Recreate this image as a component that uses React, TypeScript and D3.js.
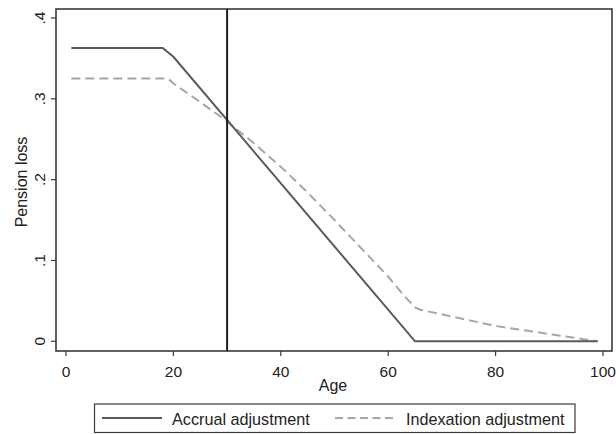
import React from "react";
import * as d3 from "d3";

// Ages and pension loss for the two adjustment schemes
const accrualAges = [1, 18, 20, 65, 99];
const accrualLoss = [0.363, 0.363, 0.352, 0, 0];

const indexationAges = [1, 19, 20, 25, 30, 35, 40, 45, 50, 55, 60, 63, 65, 66, 80, 99];
const indexationLoss = [0.325, 0.325, 0.319, 0.296, 0.272, 0.245, 0.216, 0.184, 0.15, 0.115, 0.08, 0.056, 0.042, 0.039, 0.019, 0];

const xTicks = [0, 20, 40, 60, 80, 100];
const yTicks = [0, 0.1, 0.2, 0.3, 0.4];
const yTickLabels = ["0", ".1", ".2", ".3", ".4"];
const referenceAge = 30;

const seriesNames = ["Accrual adjustment", "Indexation adjustment"];

const W = 616;
const H = 434;
const plot = { left: 56, right: 612, top: 9, bottom: 351 };
const FONT = "'Liberation Sans', Arial, sans-serif";

export default function App() {
  const x = d3.scaleLinear().domain([0, 100]).range([66, 603]);
  const y = d3.scaleLinear().domain([0, 0.4]).range([341.3, 18]);

  const line = d3
    .line<[number, number]>()
    .x((d) => x(d[0]))
    .y((d) => y(d[1]));

  const accrual = accrualAges.map((a, i) => [a, accrualLoss[i]] as [number, number]);
  const indexation = indexationAges.map((a, i) => [a, indexationLoss[i]] as [number, number]);

  const axisColor = "#3a3a3a";
  const solidColor = "#5a5a5a";
  const dashColor = "#a6a6a6";

  return (
    <svg
      width={W}
      height={H}
      style={{ position: "absolute", left: 0, top: 0, display: "block", background: "#fff" }}
      fontFamily={FONT}
    >
      <rect x={0} y={0} width={W} height={H} fill="#fff" />
      {/* plot region frame */}
      <rect
        x={plot.left}
        y={plot.top}
        width={plot.right - plot.left}
        height={plot.bottom - plot.top}
        fill="none"
        stroke={axisColor}
        strokeWidth={1.6}
      />

      {/* y axis ticks and labels */}
      {yTicks.map((t, i) => (
        <g key={"y" + i}>
          <line x1={plot.left - 5} x2={plot.left} y1={y(t)} y2={y(t)} stroke={axisColor} strokeWidth={1.2} />
          <text
            transform={`translate(45,${y(t)}) rotate(-90)`}
            textAnchor="middle"
            fontSize={15.5}
            fill="#222"
          >
            {yTickLabels[i]}
          </text>
        </g>
      ))}
      <text
        transform={`translate(26.5,${(plot.top + plot.bottom) / 2 + 2}) rotate(-90)`}
        textAnchor="middle"
        fontSize={16}
        fill="#222"
      >
        Pension loss
      </text>

      {/* x axis ticks and labels */}
      {xTicks.map((t) => (
        <g key={"x" + t}>
          <line x1={x(t)} x2={x(t)} y1={plot.bottom} y2={plot.bottom + 5} stroke={axisColor} strokeWidth={1.2} />
          <text x={x(t)} y={377} textAnchor="middle" fontSize={15.5} fill="#222">
            {t}
          </text>
        </g>
      ))}
      <text x={(plot.left + plot.right) / 2 - 1} y={391} textAnchor="middle" fontSize={16} fill="#222">
        Age
      </text>

      {/* series */}
      <path d={line(indexation) || ""} fill="none" stroke={dashColor} strokeWidth={2} strokeDasharray="9,5" />
      <path d={line(accrual) || ""} fill="none" stroke={solidColor} strokeWidth={2} />

      {/* reference age marker */}
      <line
        x1={x(referenceAge)}
        x2={x(referenceAge)}
        y1={plot.top}
        y2={plot.bottom}
        stroke="#1e1e1e"
        strokeWidth={2}
      />

      {/* legend */}
      <rect x={94.5} y={404} width={480.5} height={28.5} fill="#fff" stroke={axisColor} strokeWidth={1.2} />
      <line x1={102} x2={162} y1={418} y2={418} stroke={solidColor} strokeWidth={2} />
      <text x={172} y={424.5} fontSize={16.2} fill="#222">
        {seriesNames[0]}
      </text>
      <line x1={335} x2={395} y1={418} y2={418} stroke={dashColor} strokeWidth={2} strokeDasharray="8,4.5" />
      <text x={406} y={424.5} fontSize={16.2} fill="#222">
        {seriesNames[1]}
      </text>
    </svg>
  );
}
